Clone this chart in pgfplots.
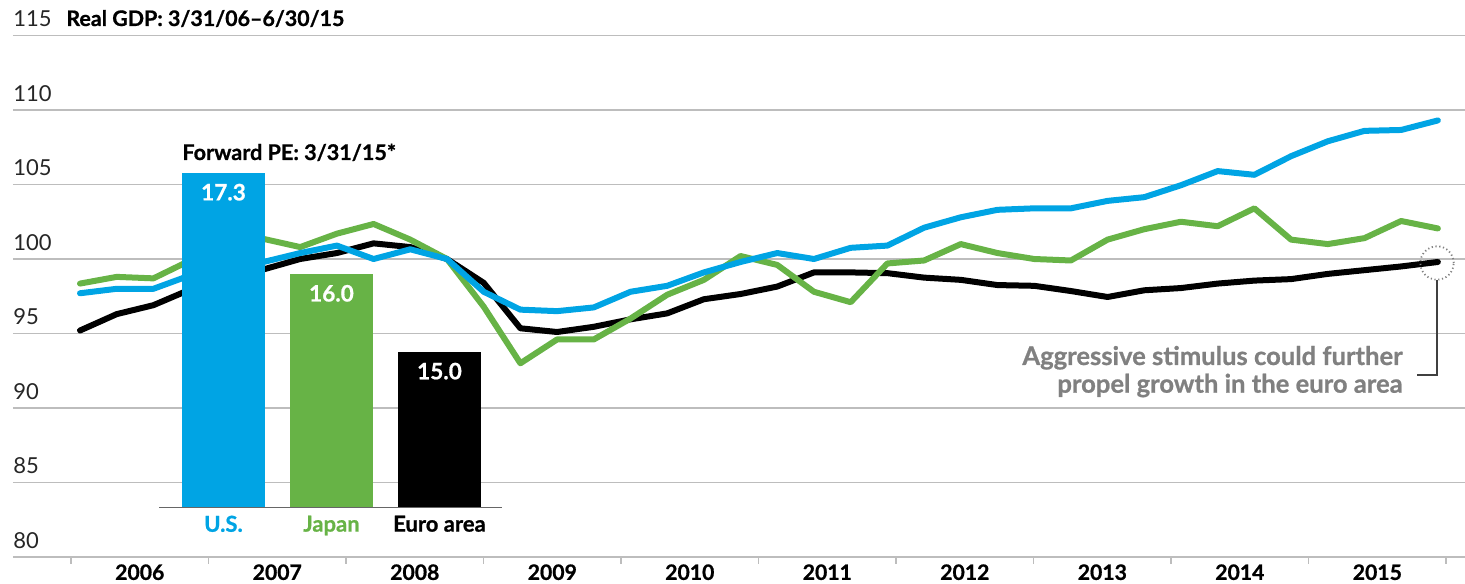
\documentclass[border=0pt]{standalone}
\usepackage{pgfplots}
\pgfplotsset{compat=1.18}
\usepackage{pgfplotstable}
\usepackage{fontspec}
\setmainfont{Lato}[BoldFeatures={FakeBold=0.8}]

\definecolor{usblue}{HTML}{00A4E4}
\definecolor{jpgreen}{HTML}{67B346}
\definecolor{gridgray}{HTML}{BDBDBD}
\definecolor{notegray}{HTML}{808080}

% quarterly real GDP index, 3/31/06 - 6/30/15
\pgfplotstableread{
us     japan   euro
97.70  98.35   95.20
98.00  98.80   96.30
98.00  98.70   96.90
98.90  99.90   97.95
99.40  100.70  98.70
99.80  101.35  99.30
100.40 100.80  100.00
100.90 101.70  100.40
100.00 102.35  101.05
100.65 101.30  100.80
100.00 100.00  100.00
97.80  96.80   98.40
96.60  93.00   95.35
96.50  94.60   95.10
96.75  94.60   95.45
97.80  96.00   95.95
98.20  97.60   96.35
99.10  98.60   97.30
99.80  100.20  97.65
100.40 99.60   98.15
100.00 97.80   99.10
100.75 97.10   99.10
100.90 99.70   99.05
102.10 99.90   98.75
102.80 101.00  98.60
103.30 100.40  98.25
103.40 100.00  98.20
103.40 99.90   97.85
103.90 101.30  97.45
104.15 102.00  97.90
104.95 102.50  98.05
105.90 102.20  98.35
105.65 103.40  98.55
106.90 101.30  98.65
107.90 101.00  99.00
108.60 101.40  99.25
108.66 102.55  99.50
109.30 102.05  99.80
}\gdp

\begin{document}
\begin{tikzpicture}
\begin{axis}[
  scale only axis, width=726pt, height=260.75pt,
  xmin=-1.826, xmax=37.74, ymin=80, ymax=115,
  axis line style={draw=none},
  ytick={80,85,...,115},
  ymajorgrids, grid style={gridgray, line width=0.8pt},
  xtick={1.6285,5.3755,9.1225,12.8695,16.6165,20.3635,24.1105,27.8575,31.6045,35.3515},
  xticklabels={2006,2007,2008,2009,2010,2011,2012,2013,2014,2015},
  major tick length=0pt,
  xtick pos=bottom, ytick pos=left,
  extra x ticks={-0.245,3.502,7.249,10.996,14.743,18.49,22.237,25.984,29.731,33.478,37.225},
  extra x tick labels={},
  extra x tick style={major tick length=3.5pt, tick align=outside, major tick style={gridgray, line width=0.8pt}},
  yticklabel style={anchor=south west, inner sep=0pt, yshift=4pt, text=black!85, font=\fontsize{11}{12}\selectfont},
  xticklabel style={inner sep=0pt, yshift=-3.5pt, font=\fontsize{10.6}{12}\selectfont\bfseries},
  /pgf/number format/assume math mode=true,
]
\addplot[black, line width=3pt, line join=round, line cap=round] table[x expr=\coordindex, y=euro]{\gdp};
\addplot[jpgreen, line width=3pt, line join=round, line cap=round] table[x expr=\coordindex, y=japan]{\gdp};
\addplot[usblue, line width=3pt, line join=round, line cap=round] table[x expr=\coordindex, y=us]{\gdp};
\end{axis}

\begin{axis}[
  at={(73pt,24.85pt)}, anchor=south west,
  scale only axis, width=171.5pt, height=194.5pt,
  xmin=-0.597, xmax=2.579, ymin=13, ymax=18,
  axis line style={draw=none}, ytick=\empty, xtick={0,1,2},
  xticklabels={\textcolor{usblue}{U.S.},\textcolor{jpgreen}{Japan},Euro area},
  major tick length=0pt,
  xticklabel style={inner sep=0pt, yshift=-4pt, font=\fontsize{11}{12}\selectfont\bfseries},
  ybar, bar width=41.5pt,
  nodes near coords={\pgfmathprintnumber[fixed,fixed zerofill,precision=1]{\pgfplotspointmeta}},
  every node near coord/.append style={anchor=north, text=white, font=\fontsize{11.3}{12}\selectfont\bfseries, yshift=-2pt},
  /pgf/number format/assume math mode=true,
]
\addplot[fill=usblue, draw=none, bar shift=0pt] coordinates {(0,17.3)};
\addplot[fill=jpgreen, draw=none, bar shift=0pt] coordinates {(1,16.0)};
\addplot[fill=black, draw=none, bar shift=0pt] coordinates {(2,15.0)};
\draw[black!60, line width=0.7pt] (rel axis cs:0,0) -- (rel axis cs:1,0);
\end{axis}

\begin{scope}[x=0.5pt, y=-0.5pt, shift={(-6.5pt,278.5pt)}]
\node[anchor=base west, inner sep=0pt, font=\fontsize{10.7}{12}\selectfont\bfseries] at (66,26) {Real GDP: 3/31/06--6/30/15};
\node[anchor=base west, inner sep=0pt, font=\fontsize{10.8}{12}\selectfont\bfseries] at (182,160) {Forward PE: 3/31/15*};
\draw[notegray, line width=0.9pt, dash pattern=on 0.6pt off 1.3pt] (1437,263) circle[radius=8.35pt];
\draw[black!75, line width=0.6pt] (1437,280) -- (1437,375) -- (1417,375);
\node[anchor=base east, inner sep=0pt, text=notegray, font=\fontsize{12.8}{14}\selectfont\bfseries] at (1403,365) {Aggressive stimulus could further};
\node[anchor=base east, inner sep=0pt, text=notegray, font=\fontsize{12.8}{14}\selectfont\bfseries] at (1403,392.7) {propel growth in the euro area};
\pgfresetboundingbox
\path[use as bounding box] (0,0) rectangle (1465,583);
\end{scope}
\end{tikzpicture}
\end{document}
